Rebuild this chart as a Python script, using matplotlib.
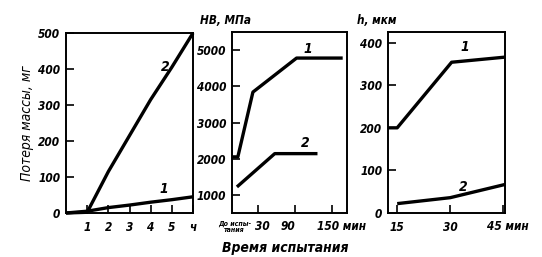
import matplotlib
matplotlib.use("Agg")
import matplotlib.pyplot as plt
import matplotlib.transforms as mtransforms

plt.rcParams['font.family'] = ['DejaVu Sans']
plt.rcParams['font.style'] = 'italic'
plt.rcParams['font.weight'] = 'bold'
plt.rcParams['font.stretch'] = 'condensed'

# panel 1: mass loss vs time, h
t_hours = [0, 1, 2, 3, 4, 5, 6]
loss_2 = [0, 2, 115, 215, 315, 405, 500]
loss_1 = [0, 5, 15, 22, 30, 37, 45]
x1_ticks = [1, 2, 3, 4, 5, 6]
x1_labels = ['1', '2', '3', '4', '5', 'ч']

# panel 2: hardness HB vs time, min (first point = before test)
t_hb_1 = [-12, -2.5, 22, 93, 168]
hb_1 = [2050, 2050, 3840, 4780, 4780]
t_hb_2 = [-4, 57.5, 127]
hb_2 = [1220, 2140, 2140]
x2_ticks = [30, 90, 150]

# panel 3: depth h vs time, min
t_h_1 = [12.4, 15, 30.4, 45.5]
h_1 = [200, 200, 354, 366]
t_h_2 = [15, 30, 45.5]
h_2 = [22, 36, 67]

W, H = 542, 257
fig = plt.figure(figsize=(W / 100, H / 100), dpi=100)
fig.patch.set_facecolor('white')


def box(l, r, t, b):
    return [l / W, 1 - b / H, (r - l) / W, (b - t) / H]


LW = 2.4
FS = 8.5

ax1 = fig.add_axes(box(66, 193, 33, 213))
ax2 = fig.add_axes(box(232, 347, 32, 213))
ax3 = fig.add_axes(box(388, 505, 32, 213))

for ax in (ax1, ax2, ax3):
    for s in ax.spines.values():
        s.set_linewidth(1.4)
    ax.tick_params(direction='in', length=6, width=1.2, labelsize=FS, pad=4)
    ax.tick_params(axis='x', pad=6)

# panel 1
ax1.plot(t_hours, loss_2, color='black', lw=LW, solid_capstyle='butt', clip_on=False)
ax1.plot(t_hours, loss_1, color='black', lw=LW, solid_capstyle='butt', clip_on=False)
ax1.set_xlim(0, 6)
ax1.set_ylim(0, 500)
ax1.set_xticks(x1_ticks)
ax1.set_xticklabels(x1_labels)
ax1.set_yticks([0, 100, 200, 300, 400, 500])
ax1.set_ylabel('Потеря массы, мг', fontsize=10, labelpad=3)
ax1.text(4.5, 395, '2', fontsize=10)
ax1.text(4.4, 55, '1', fontsize=10)

# panel 2
ax2.plot(t_hb_1, hb_1, color='black', lw=LW, solid_capstyle='butt', clip_on=False)
ax2.plot(t_hb_2, hb_2, color='black', lw=LW, solid_capstyle='butt', clip_on=False)
ax2.set_xlim(-12, 175)
ax2.set_ylim(500, 5500)
ax2.set_xticks(x2_ticks)
ax2.set_xticklabels([])
ax2.set_yticks([1000, 2000, 3000, 4000, 5000])
ax2.text(105, 4920, '1', fontsize=10)
ax2.text(100, 2330, '2', fontsize=10)
tr2 = mtransforms.blended_transform_factory(ax2.transData, ax2.transAxes)
ax2.text(38, -0.038, '30', transform=tr2, fontsize=FS, ha='center', va='top')
ax2.text(79, -0.038, '90', transform=tr2, fontsize=FS, ha='center', va='top')
ax2.text(126, -0.038, '150 мин', transform=tr2, fontsize=FS, ha='left', va='top')
ax2.text(-8, -0.045, 'До испы-\nтания', transform=tr2, fontsize=5, ha='center',
         va='top', linespacing=0.85)
fig.text(285 / W, 1 - 248 / H, 'Время испытания', fontsize=10, ha='center', va='center')
fig.text(200 / W, 1 - 20 / H, 'HB, МПа', fontsize=FS, ha='left', va='center')

# panel 3
ax3.plot(t_h_1, h_1, color='black', lw=LW, solid_capstyle='butt', clip_on=False)
ax3.plot(t_h_2, h_2, color='black', lw=LW, solid_capstyle='butt', clip_on=False)
ax3.set_xlim(12.4, 45.5)
ax3.set_ylim(0, 425)
ax3.set_xticks([15, 30, 45])
ax3.set_xticklabels(['15', '30', ''])
ax3.set_yticks([0, 100, 200, 300, 400])
ax3.text(33, 380, '1', fontsize=10)
ax3.text(32.5, 52, '2', fontsize=10)
tr3 = mtransforms.blended_transform_factory(ax3.transData, ax3.transAxes)
ax3.text(40.3, -0.038, '45 мин', transform=tr3, fontsize=FS, ha='left', va='top')
fig.text(357 / W, 1 - 20 / H, 'h, мкм', fontsize=FS, ha='left', va='center')

fig.savefig('out.png', dpi=100, facecolor='white')
